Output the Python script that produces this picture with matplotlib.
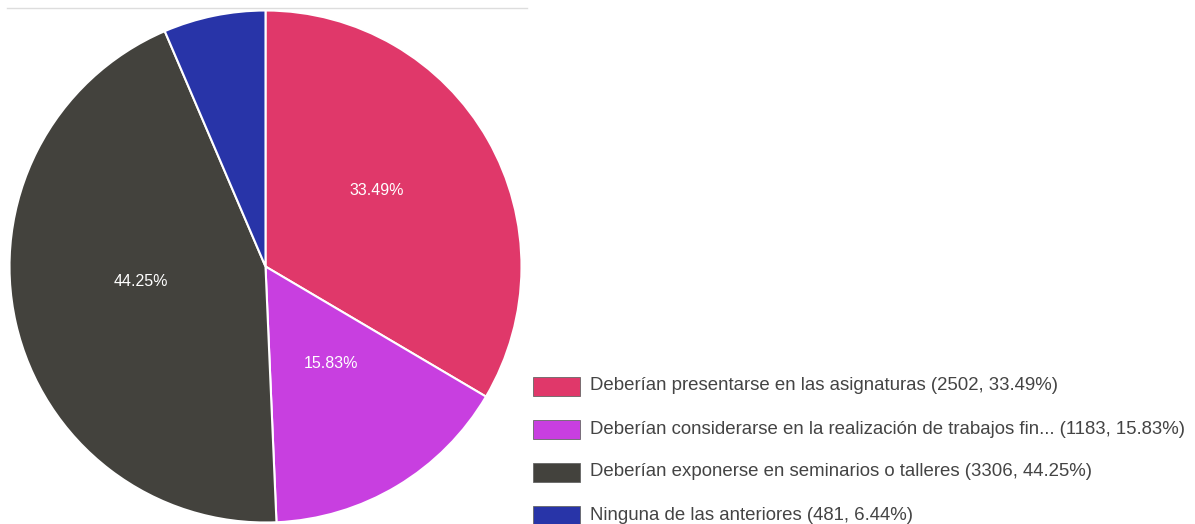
import matplotlib
matplotlib.use("Agg")
import matplotlib.pyplot as plt
from matplotlib.patches import Rectangle
from matplotlib.lines import Line2D
import numpy as np

plt.rcParams['font.family'] = ['Liberation Sans', 'DejaVu Sans']

categories = [
    "Deberían presentarse en las asignaturas",
    "Deberían considerarse en la realización de trabajos fin...",
    "Deberían exponerse en seminarios o talleres",
    "Ninguna de las anteriores",
]
counts = [2502, 1183, 3306, 481]
percents = [33.49, 15.83, 44.25, 6.44]
colors = ["#E0386A", "#C83FE0", "#43423D", "#2834A8"]

W, H = 1195, 524
fig = plt.figure(figsize=(W / 100, H / 100), dpi=100)

cx, cy, R = 265.5, 266.5, 256.0
ax = fig.add_axes([(cx - R) / W, (H - cy - R) / H, 2 * R / W, 2 * R / H])
wedges, _ = ax.pie(counts, colors=colors, startangle=90, counterclock=False,
                   radius=1.0, wedgeprops=dict(edgecolor="white", linewidth=1.5))
ax.set_xlim(-1, 1)
ax.set_ylim(-1, 1)
ax.set_aspect("equal")
ax.axis("off")

# percentage labels (skip small slice)
for w, p in zip(wedges, percents):
    if p < 10:
        continue
    ang = np.deg2rad((w.theta1 + w.theta2) / 2)
    r = 0.5
    ax.text(r * np.cos(ang), r * np.sin(ang) + 13 / R, f"{p:.2f}%", color="white",
            ha="center", va="center", fontsize=11.5)

# top separator line
fig.add_artist(Line2D([7 / W, 527 / W], [1 - 8 / H, 1 - 8 / H], color="#dddddd", linewidth=1))

# legend
y0 = 386
dy = 43
for i, (c, n, p, col) in enumerate(zip(categories, counts, percents, colors)):
    yc = y0 + i * dy
    fig.add_artist(Rectangle((533 / W, 1 - (yc + 9.5) / H), 47 / W, 19 / H,
                             transform=fig.transFigure, facecolor=col,
                             edgecolor="#666666", linewidth=0.6))
    fig.text(590 / W, 1 - yc / H, f"{c} ({n}, {p:.2f}%)", ha="left", va="center",
             fontsize=13.4, color="#444444")

fig.savefig("out.png", dpi=100)
